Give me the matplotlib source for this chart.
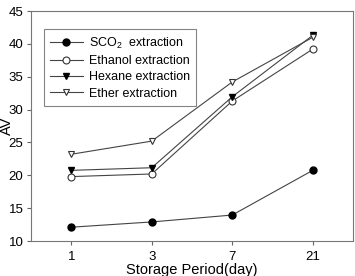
import matplotlib
matplotlib.use('Agg')
import matplotlib.pyplot as plt

plt.rcParams['font.family'] = ['Liberation Sans', 'DejaVu Sans']
plt.rcParams['mathtext.default'] = 'regular'

days = ['1', '3', '7', '21']
sco2 = [12.1, 12.9, 13.95, 20.75]
ethanol = [19.8, 20.2, 31.3, 39.2]
hexane = [20.75, 21.15, 31.95, 41.3]
ether = [23.2, 25.2, 34.2, 41.0]

fig = plt.figure(figsize=(3.55, 2.76), dpi=100)
ax = fig.add_axes([31 / 355, 35 / 276, 322 / 355, 230 / 276])

xs = range(len(days))
lc = '#444444'
ax.plot(xs, sco2, c=lc, lw=0.8, marker='o', ms=5, mfc='black', mec='black', label='SCO$_2$  extraction')
ax.plot(xs, ethanol, c=lc, lw=0.8, marker='o', ms=5, mfc='white', mec='#333333', mew=0.8, label='Ethanol extraction')
ax.plot(xs, hexane, c=lc, lw=0.8, marker='v', ms=5, mfc='black', mec='black', label='Hexane extraction')
ax.plot(xs, ether, c=lc, lw=0.8, marker='v', ms=5, mfc='white', mec='#333333', mew=0.8, label='Ether extraction')

ax.set_xlim(-0.5, 3.5)
ax.set_ylim(10, 45)
ax.set_xticks(list(xs))
ax.set_xticklabels(days)
ax.set_yticks(range(10, 46, 5))
ax.tick_params(labelsize=9.5, length=3, width=0.8, color='#666666')
ax.tick_params(axis='x', pad=4)
ax.tick_params(axis='y', pad=2.5)
for s in ax.spines.values():
    s.set_color('#777777')
    s.set_linewidth(0.8)

ax.set_xlabel('Storage Period(day)', fontsize=10.5, labelpad=0)
ax.set_ylabel('AV', fontsize=10.5)
ax.yaxis.set_label_coords(-0.052, 0.5)

leg = ax.legend(loc='upper left', bbox_to_anchor=(0.04, 0.92), fontsize=9, frameon=True,
                fancybox=False, edgecolor='#666666', handlelength=2.6, borderpad=0.5,
                labelspacing=0.35, handletextpad=0.5, borderaxespad=0)
leg.get_frame().set_linewidth(0.8)

fig.savefig('out.png', dpi=100)
